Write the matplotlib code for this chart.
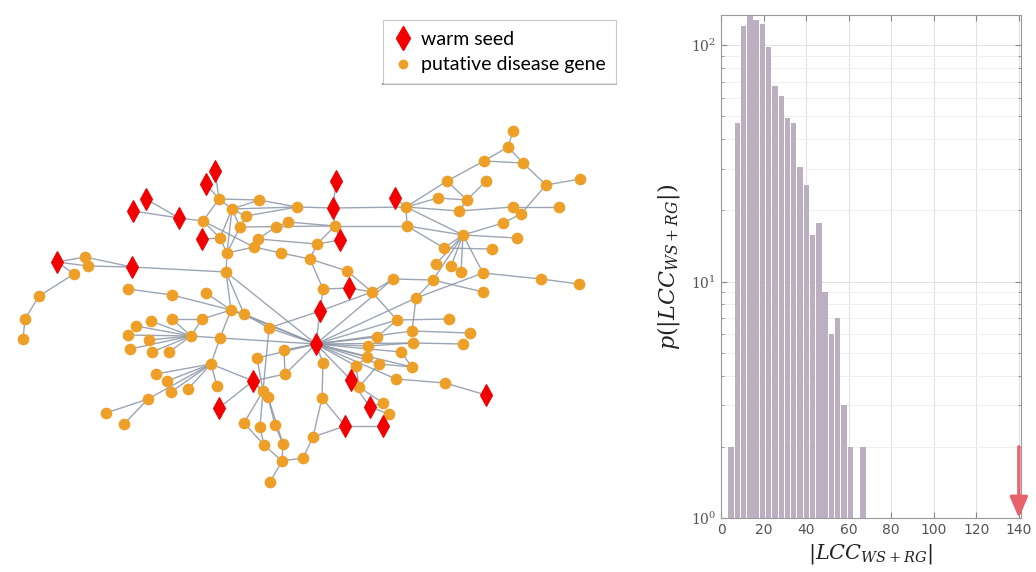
import matplotlib
matplotlib.use("Agg")
import matplotlib.pyplot as plt
from matplotlib.collections import LineCollection
from matplotlib.lines import Line2D
import numpy as np

plt.rcParams["mathtext.fontset"] = "dejavuserif"

# ---------------- network data (layout positions, image pixel space) ----------------
seed_x = [215, 206, 146, 133, 179, 202, 336, 333, 340, 57, 132, 320, 316, 349, 395, 253, 219, 351, 370, 345, 383, 486]
seed_y = [171, 184, 199, 211, 218, 239, 181, 208, 240, 262, 267, 311, 344, 288, 198, 381, 408, 380, 407, 426, 426, 395]

gene_x = [219, 259, 232, 246, 297, 203, 240, 276, 288, 335, 220, 258, 254, 317, 227, 281, 310, 347, 85, 88,
          74, 226, 39, 25, 23, 128, 172, 206, 323, 231, 244, 269, 136, 151, 172, 202, 128, 149, 191, 220,
          130, 152, 169, 284, 257, 323, 211,
          513, 508, 484, 523, 447, 486, 546, 580, 438, 467, 406, 459, 513, 521, 559, 407, 503, 463, 517,
          444, 492, 436, 451, 461, 483, 541, 579, 393, 433, 483, 372, 416, 397, 449, 412, 470, 377, 413,
          463, 368, 401, 367, 356, 379, 412,
          156, 167, 188, 171, 285, 396, 445, 217, 148, 106, 124, 263, 268, 359, 322, 383, 389, 244, 260,
          275, 313, 264, 283, 282, 303, 270]
gene_y = [199, 200, 209, 216, 207, 221, 227, 227, 222, 226, 238, 239, 247, 244, 253, 253, 259, 271, 257, 266,
          274, 272, 296, 319, 339, 289, 295, 293, 289, 310, 314, 328, 326, 321, 319, 319, 335, 340, 336, 338,
          349, 352, 352, 350, 358, 363, 364,
          131, 147, 161, 163, 181, 181, 185, 179, 198, 200, 207, 211, 207, 214, 207, 226, 223, 235, 238,
          248, 249, 264, 266, 272, 273, 279, 284, 279, 280, 292, 292, 298, 320, 319, 331, 333, 337, 343,
          344, 346, 352, 357, 366, 364, 367,
          374, 381, 389, 392, 374, 379, 383, 386, 399, 413, 424, 391, 397, 387, 398, 403, 414, 423, 427,
          425, 437, 445, 444, 461, 458, 482]

edge_list = """
S0-g0 S1-g0 S2-S4 S3-S4 S4-g5 S5-g10
g0-g2 g0-g5 g0-g1 g1-g2 g1-g4 g2-g3 g2-g4 g2-g6 g2-g10 g2-g14
g3-g6 g3-g4 g5-g10 g5-g12 g6-g9 g6-g14 g7-g11 g8-g9 g7-g8
g10-g14 g11-g12 g11-g13 g12-g14 g14-g21 g15-g12 g15-g16
g4-S7 S6-S7 S7-g9 S7-g57 S14-g57 S8-g9 S8-g13 g9-g13 g9-g62
g13-g16 g16-g28 g16-g17 g17-g77 g28-S13 S13-g77 g28-S11 S11-S12 S11-g31 S11-g77
S9-g18 S9-g19 S9-g20 g18-S10 g19-S10 g18-g19 g20-g22 g22-g23 g23-g24
S10-g21 g21-g29 g21-g30 g21-S12
g25-g26 g26-g29 g27-g29 g29-g30 g29-g35 g30-g31 g31-S12 g29-S12 g30-S12
g32-g38 g33-g38 g34-g38 g36-g38 g37-g38 g40-g38 g41-g38 g42-g38 g35-g38 g38-g39 g34-g35
g29-g39 g39-g46 g39-S12
g46-g92 g46-g93 g46-g94 g46-g95 g46-g100 g46-g99 g46-S15 g100-g101 g100-g102 g93-g95
S16-S15 S15-g96 S15-g103 S15-g104 g96-S12 g43-S12 g44-S12 g43-g96 g31-g103 g44-g103
g103-g109 g103-g110 g104-g111 g104-g114 g109-g113 g110-g113 g111-g114 g113-g115 g114-g115
g115-g116 g115-g117 g116-g112 g112-S19 g112-g106 g45-S12 g45-g106 S19-S20 S19-g106
S12-S17 S17-g105 S17-S18 S18-g107 S18-g108 S20-g108 g105-g107
g97-g98 g98-S21 S12-g97
S12-g83 S12-g86 S12-g87 S12-g88 S12-g89 S12-g90 S12-g84 S12-g81 S12-g79 S12-g78 S12-g74 S12-g91
g47-g48 g48-g49 g48-g50 g49-g50 g50-g53 g53-g54 g53-g60 g49-g51 g52-g56 g51-g57 g51-g56
g55-g57 g55-g56 g56-g58 g57-g58 g57-g64 g57-g62 g58-g59 g59-g61 g59-g60 g60-g63 g63-g64
g62-g64 g62-g66 g64-g65 g66-g67 g64-g66 g64-g71 g64-g68 g64-g69 g64-g70 g64-g75
g71-g72 g72-g73 g78-g71 g75-g76 g74-g75 g74-g77 g77-g79 g78-g81 g78-g75 g79-g80 g81-g82 g84-g85
g83-g79 g86-g84 g87-g91 g88-g89 g90-g91 g105-g90 g89-g105
"""

legend_labels = ["warm seed", "putative disease gene"]

# ---------------- histogram data ----------------
bin_centers = [4.7, 7.65, 10.6, 13.55, 16.5, 19.45, 22.4, 25.35, 28.3, 31.25, 34.2,
               37.15, 40.1, 43.05, 46.0, 48.95, 51.9, 54.85, 57.8, 60.75, 63.7, 66.65]
counts = [2, 47, 120, 136, 128, 123, 98, 67, 61, 49, 47,
          30.5, 25.7, 15.7, 17.7, 9.0, 6.0, 7.0, 3.0, 2.0, 0, 2.0]
observed_lcc = 140
x_ticks = [0, 20, 40, 60, 80, 100, 120, 140]

# ---------------- figure ----------------
W, H = 1036, 572
fig = plt.figure(figsize=(W / 100, H / 100), dpi=100)

# network panel in pixel coordinates
axn = fig.add_axes([0, 0, 660 / W, 1])
axn.set_xlim(0, 660)
axn.set_ylim(H, 0)
axn.axis("off")


def pos(tok):
    i = int(tok[1:])
    if tok[0] == "S":
        return (seed_x[i], seed_y[i])
    return (gene_x[i], gene_y[i])


segs = []
for e in edge_list.split():
    a, b = e.split("-")
    segs.append([pos(a), pos(b)])
lc = LineCollection(segs, colors="#8a96a6", linewidths=1.0, alpha=0.85, zorder=1)
axn.add_collection(lc)

orange = "#EE9F27"
red = "#F20000"
axn.plot(gene_x, gene_y, "o", ms=7.4, color=orange, mec=orange, ls="none", zorder=2)
axn.plot(seed_x, seed_y, "d", ms=10.8, mew=0.8, color=red, mec=red, ls="none", zorder=3)

handles = [Line2D([], [], marker="d", color=red, ls="none", ms=12),
           Line2D([], [], marker="o", color=orange, ls="none", ms=6)]
leg = fig.legend(handles, legend_labels, loc="upper left",
                 bbox_to_anchor=(383 / W, 1 - 20 / H), frameon=True, fancybox=False,
                 prop={"family": "Lato", "size": 14}, handletextpad=0.4,
                 borderpad=0.55, labelspacing=0.45, handlelength=1.0, borderaxespad=0)
leg.get_frame().set_edgecolor("#bbbbbb")
leg.get_frame().set_linewidth(0.8)
# darker bottom edge of the legend box
fig.canvas.draw()
bb = leg.get_window_extent().transformed(fig.transFigure.inverted())
fig.add_artist(Line2D([bb.x0, bb.x1], [bb.y0, bb.y0], color="#555555", lw=1.2,
                      transform=fig.transFigure))

# histogram panel
axh = fig.add_axes([721 / W, (H - 518) / H, 300 / W, 503 / H])
axh.bar(bin_centers, counts, width=2.55, color="#BDAFC2", edgecolor="none", zorder=2)
axh.set_yscale("log")
axh.set_ylim(1, 134)
axh.set_xlim(0, 141)
axh.set_xticks(x_ticks)
axh.set_yticks([1, 10, 100])
axh.set_yticklabels([r"$10^0$", r"$10^1$", r"$10^2$"])
axh.grid(True, which="major", color="#e2e2e2", lw=0.8, zorder=0)
axh.grid(True, which="minor", axis="y", color="#ededed", lw=0.6, zorder=0)
axh.tick_params(which="both", direction="in", top=True, right=True,
                colors="#888888", labelcolor="#555555", labelsize=10)
axh.tick_params(which="major", length=4)
axh.tick_params(which="minor", length=2)
for sp in axh.spines.values():
    sp.set_color("#9a9a9a")
    sp.set_linewidth(0.8)

axh.annotate("", xy=(observed_lcc, 1), xytext=(observed_lcc, 2),
             arrowprops=dict(arrowstyle="-|>,head_length=0.7,head_width=0.3", color="#E9616A", lw=2.4,
                             mutation_scale=18, shrinkA=0, shrinkB=0), zorder=5)

axh.set_ylabel(r"$p(|LCC_{WS+RG}|)$", fontsize=16, color="#222222", labelpad=6)
axh.set_xlabel(r"$|LCC_{WS+RG}|$", fontsize=15, color="#222222", labelpad=4)

fig.savefig("out.png", dpi=100)
